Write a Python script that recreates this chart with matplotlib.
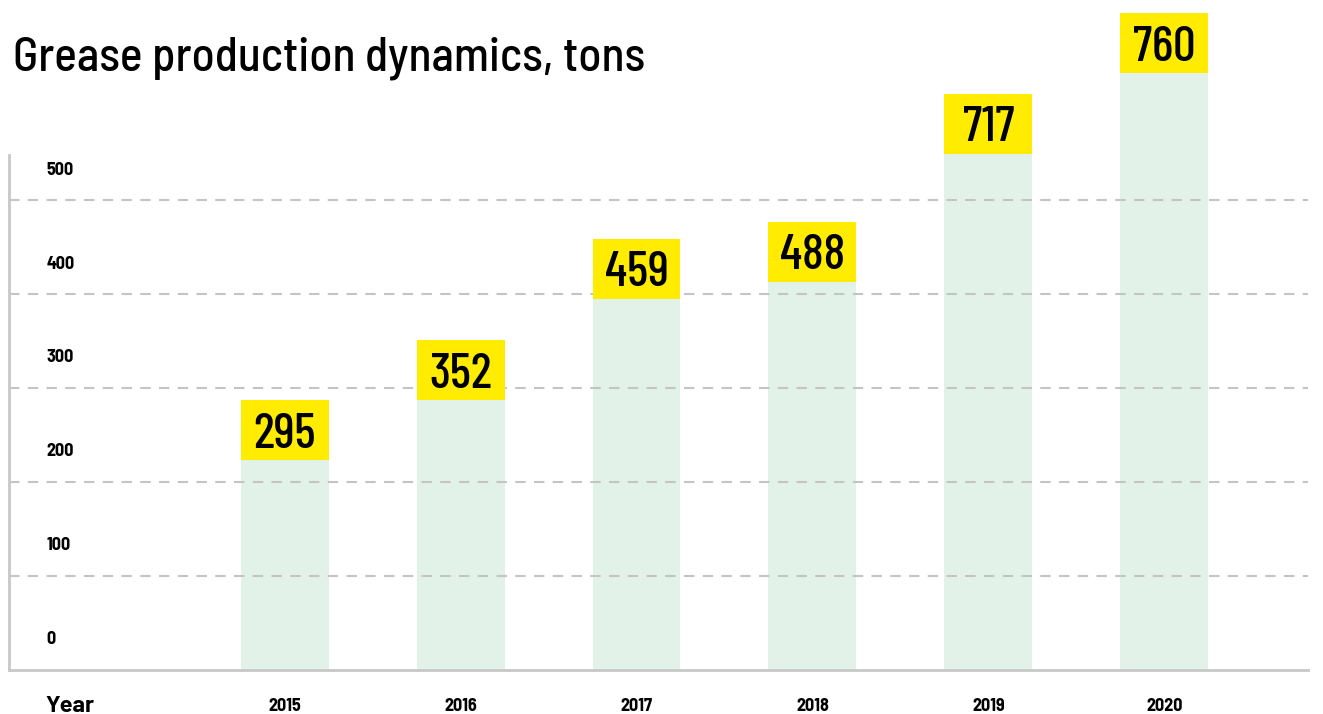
import matplotlib
matplotlib.use("Agg")
import matplotlib.pyplot as plt
import matplotlib.transforms as mtransforms

# data
years = ["2015", "2016", "2017", "2018", "2019", "2020"]
labels = [295, 352, 459, 488, 717, 760]
# bar heights as drawn in the picture (axis units, box sits on top)
heights = [223, 287, 395, 413, 549, 635]
box_height = 64
y_ticks = [0, 100, 200, 300, 400, 500]
grid_lines = [100, 200, 300, 400, 500]

plt.rcParams['font.family'] = ['Barlow Condensed', 'DejaVu Sans']
semi_font = ['Barlow Semi Condensed', 'DejaVu Sans']

fig = plt.figure(figsize=(13.23, 7.14), dpi=100)
ax = fig.add_axes([9 / 1323, 44 / 714, 1299 / 1323, 515 / 714])

x = list(range(len(years)))
ax.bar(x, heights, width=0.5, color="#e3f2e8", zorder=1, clip_on=False)
for g in grid_lines:
    ax.axhline(g, color="#c4c4c4", lw=1.5, ls=(0, (5, 4)), zorder=2, clip_on=False)
ax.bar(x, [box_height] * len(x), bottom=heights, width=0.5, color="#ffec00",
       zorder=3, clip_on=False)
for xi, h, lab in zip(x, heights, labels):
    ax.text(xi, h + box_height / 2, str(lab), ha="center", va="center_baseline",
            fontsize=36, fontweight=500, color="black", zorder=4)

ax.set_xlim(-1.568, 5.818)
ax.set_ylim(0, 548)

for s in ["top", "right"]:
    ax.spines[s].set_visible(False)
for s in ["left", "bottom"]:
    ax.spines[s].set_color("#c8c8c8")
    ax.spines[s].set_linewidth(2)

ax.set_yticks([])
trans = mtransforms.blended_transform_factory(ax.transAxes, ax.transData)
for t in y_ticks:
    ax.text(0.029, t + 32, str(t), transform=trans, ha="left", va="center",
            fontsize=13, fontweight="bold", family=semi_font)

ax.set_xticks(x)
ax.set_xticklabels(years, fontsize=13, fontweight="bold", family=semi_font)
ax.tick_params(axis="x", length=0, pad=20)

fig.text(45 / 1323, 1 - 706 / 714, "Year", ha="left", va="center",
         fontsize=17, fontweight="bold", family=['Barlow', 'DejaVu Sans'])
fig.text(13 / 1323, 1 - 70 / 714, "Grease production dynamics, tons",
         ha="left", va="baseline", fontsize=34, fontweight=500, family=semi_font)

fig.savefig("out.png", dpi=100)
